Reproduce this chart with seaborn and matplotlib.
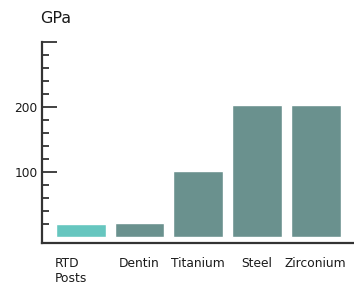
import matplotlib
matplotlib.use('Agg')
import matplotlib.pyplot as plt
import matplotlib.transforms as mtransforms
import seaborn as sns
import numpy as np

# Dữ liệu
materials = ['RTD\nPosts', 'Dentin', 'Titanium', 'Steel', 'Zirconium']
modulus = [20, 21, 102, 203, 203]
bar_colors = ['#66c6bf', '#6a918e', '#6a918e', '#6a918e', '#6a918e']
major_ticks = [100, 200, 300]
major_labels = ['100', '200', '']

sns.set_style('white')
plt.rcParams['font.family'] = ['DejaVu Sans']

fig = plt.figure(figsize=(3.54, 2.87), dpi=100)
ax = fig.add_axes([0.1186, 0.1516, 0.8814, 0.7021])

sns.barplot(x=materials, y=modulus, hue=materials, palette=bar_colors,
            legend=False, width=0.85, saturation=1, ax=ax)

ax.set_xlim(-0.66, 4.65)
ax.set_ylim(-10, 300)

# Trục
for s in ['top', 'right']:
    ax.spines[s].set_visible(False)
for s in ['left', 'bottom']:
    ax.spines[s].set_color('#333333')
    ax.spines[s].set_linewidth(1.6)

ax.set_yticks(major_ticks)
ax.set_yticklabels(major_labels)
ax.set_yticks(np.arange(20, 300, 20), minor=True)
ax.tick_params(axis='y', which='major', direction='in', length=10.5, width=1.3,
               color='#333333', labelsize=8.8, labelcolor='#1a1a1a', pad=3, left=True)
ax.tick_params(axis='y', which='minor', direction='in', length=5, width=1.3,
               color='#333333', left=True)
ax.tick_params(axis='x', length=0, labelsize=8.8, labelcolor='#1a1a1a', pad=10)

# nhãn đầu tiên căn trái, lệch nhẹ sang phải
lab0 = ax.get_xticklabels()[0]
lab0.set_ha('right')
lab0.set_multialignment('left')
lab0.set_transform(lab0.get_transform() +
                   mtransforms.ScaledTranslation(6 / 100, 0, fig.dpi_scale_trans))

ax.set_xlabel('')
ax.set_ylabel('')

fig.text(0.114, 1 - 11 / 287, 'GPa', ha='left', va='top', fontsize=11.5, color='#1a1a1a')

fig.savefig('out.png', dpi=100)
